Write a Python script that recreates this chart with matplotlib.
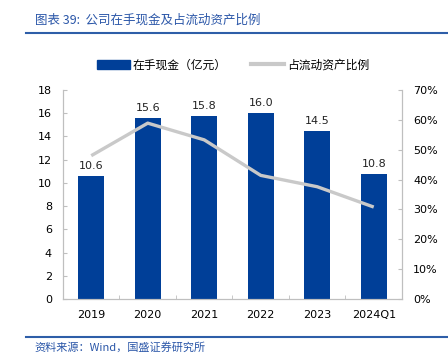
import numpy as np
import matplotlib.pyplot as plt
from matplotlib.lines import Line2D

plt.rcParams['font.family'] = ['DejaVu Sans', 'Noto Sans CJK SC']

years = ['2019', '2020', '2021', '2022', '2023', '2024Q1']
cash = [10.6, 15.6, 15.8, 16.0, 14.5, 10.8]
ratio = [48.0, 58.9, 53.3, 41.4, 37.6, 30.8]

bar_color = '#003F98'
line_color = '#C9C9C9'
axis_color = '#BFBFBF'
blue_txt = '#2A56A8'

fig = plt.figure(figsize=(4.48, 3.58), dpi=100)
ax1 = fig.add_axes([0.1406, 0.1648, 0.7567, 0.5838])
x = np.arange(len(years))

ax1.bar(x, cash, width=0.46, color=bar_color, zorder=2)
for xi, v in zip(x, cash):
    ax1.annotate(f'{v:.1f}', (xi, v), xytext=(0, 3.5), textcoords='offset points',
                 ha='center', va='bottom', fontsize=8, color='#222222')

ax1.set_xlim(-0.5, len(years) - 0.5)
ax1.set_ylim(0, 18)
ax1.set_yticks(range(0, 19, 2))
ax1.set_xticks(x)
ax1.set_xticklabels(years)
ax1.set_xticks(np.arange(0.5, len(years) - 1, 1), minor=True)
ax1.tick_params(axis='x', which='major', length=0, pad=8, labelsize=8)
ax1.tick_params(axis='x', which='minor', direction='in', length=3, color=axis_color)
ax1.tick_params(axis='y', direction='in', length=3, color=axis_color, pad=8, labelsize=8)

ax2 = ax1.twinx()
ax2.plot(x, ratio, color=line_color, lw=2.4, solid_capstyle='butt', zorder=3)
ax2.set_ylim(0, 70)
ax2.set_yticks(range(0, 71, 10))
ax2.set_yticklabels([f'{t}%' for t in range(0, 71, 10)])
ax2.tick_params(axis='y', direction='in', length=3, color=axis_color, pad=8, labelsize=8)

for a in (ax1, ax2):
    a.spines['top'].set_visible(False)
    for s in ('left', 'right', 'bottom'):
        a.spines[s].set_color(axis_color)
        a.spines[s].set_linewidth(0.8)

handles = [plt.Rectangle((0, 0), 1, 1, color=bar_color),
           Line2D([0], [0], color=line_color, lw=3)]
fig.legend(handles, ['在手现金（亿元）', '占流动资产比例'], loc='center',
           bbox_to_anchor=(0.52, 0.818), ncol=2, frameon=False,
           prop={'family': ['Noto Sans CJK SC'], 'size': 8.5},
           handlelength=2.8, handleheight=0.8, handletextpad=0.25, columnspacing=2.0)

# title and source
fig.text(0.078, 1 - 20 / 358, '图表 39:  公司在手现金及占流动资产比例', color=blue_txt,
         fontsize=9, va='center', ha='left', style='italic',
         family=['Noto Sans CJK SC', 'DejaVu Sans'])
fig.add_artist(Line2D([26 / 448, 1], [1 - 33 / 358] * 2, color='#2E5EA8', lw=1.5))
fig.add_artist(Line2D([26 / 448, 1], [1 - 337 / 358] * 2, color='#2E5EA8', lw=1.5))
fig.text(0.078, 1 - 347 / 358, '资料来源：Wind，国盛证券研究所', color=blue_txt,
         fontsize=8, va='center', ha='left', style='italic',
         family=['Noto Sans CJK SC', 'DejaVu Sans'])

fig.savefig('out.png', dpi=100)
